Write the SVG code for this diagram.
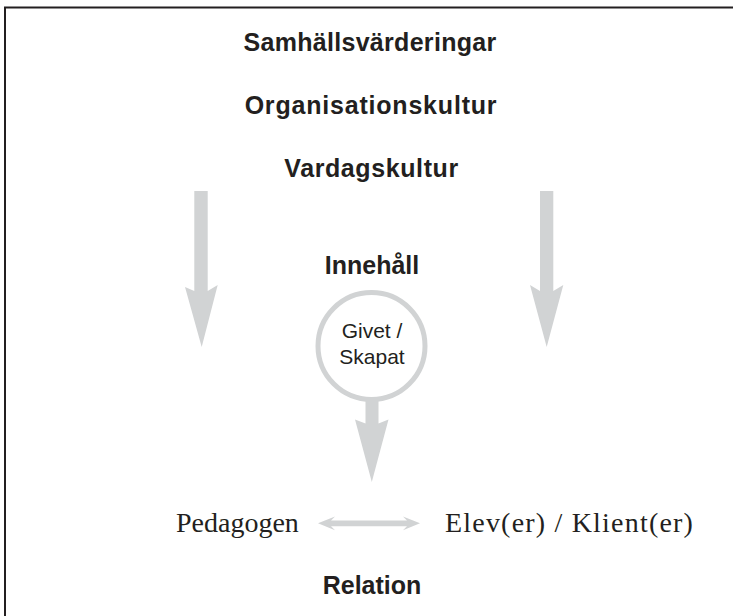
<svg xmlns="http://www.w3.org/2000/svg" width="733" height="616" viewBox="0 0 733 616">
<style>
.h{font-family:"Liberation Sans",Arial,sans-serif;font-weight:bold;font-size:25px;fill:#231f20;text-anchor:middle}
.c{font-family:"Liberation Sans",Arial,sans-serif;font-size:21px;fill:#231f20;text-anchor:middle}
.s{font-family:"Liberation Serif","Times New Roman",serif;font-size:28px;fill:#231f20}
.a{fill:#d1d3d4;stroke:none}
</style>
<rect width="733" height="616" fill="#ffffff"/>
<path d="M5,616 V7.5 H733" fill="none" stroke="#231f20" stroke-width="2"/>
<g id="samhall"><text class="h" x="370" y="51" letter-spacing="0.3">Samhällsvärderingar</text></g>
<g id="organisation"><text class="h" x="371" y="114" letter-spacing="0.8">Organisationskultur</text></g>
<g id="vardag"><text class="h" x="371.5" y="177" letter-spacing="0.6">Vardagskultur</text></g>
<g id="innehall"><text class="h" x="372" y="274">Innehåll</text></g>
<g id="givet">
<circle cx="371.5" cy="346" r="53.5" fill="#ffffff" stroke="#d1d3d4" stroke-width="5"/>
<text class="c" x="372" y="338">Givet /</text>
<text class="c" x="372" y="364">Skapat</text>
</g>
<g id="pedagogen"><text class="s" x="176" y="532">Pedagogen</text></g>
<g id="elev"><text class="s" x="445" y="532" letter-spacing="1.2">Elev(er) / Klient(er)</text></g>
<g id="relation"><text class="h" x="372" y="594">Relation</text></g>
<g id="connectors">
<path class="a" d="M194.3,191 H207.7 V291 L217.7,285 L201.7,347 L185,287 L194.3,291 Z"/>
<path class="a" d="M540,191 H553.3 V291 L563.3,285 L546.7,347 L530,285 L540,291 Z"/>
<path class="a" d="M365.5,398 H378.5 V423.5 L388.5,419.5 L371.8,482 L355,419.5 L365.5,423.5 Z"/>
<path class="a" d="M318,523.3 L335,516.5 L331,520.5 H407 L403,516.5 L420,523.3 L403,530.2 L407,526.2 H331 L335,530.2 Z"/>
</g>
</svg>
